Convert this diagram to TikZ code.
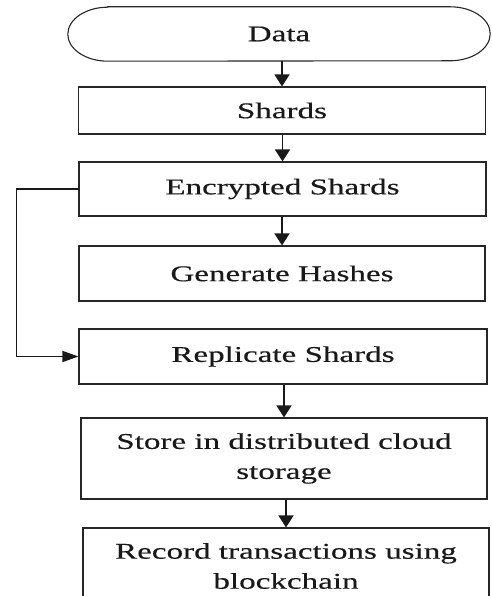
\documentclass[tikz,border=0pt]{standalone}
\usepackage{fontspec}
\setmainfont[FakeStretch=1.47,FakeBold=0.4]{Liberation Serif}
\usetikzlibrary{arrows.meta,calc}
\begin{document}
\begin{tikzpicture}[x=1pt,y=1pt,
  txt/.style={inner sep=0pt, align=center, text=black!90, font=\fontsize{22.5}{30}\selectfont},
  box/.style={txt, draw=black!85, line width=1.1pt, minimum width=407pt},
  down/.style={draw=black!90, line width=1.6pt, -{Triangle[width=15pt,length=12pt]}},
  side/.style={draw=black!90, line width=1.3pt, -{Triangle[width=11pt,length=16pt]}}]
\useasboundingbox (0,0) rectangle (491,596);
\clip (0,0) rectangle (491,596);

% start terminator with stretched round ends
\node[txt, minimum width=422pt, minimum height=54pt] (data) at (279,562) {Data};
\draw[draw=black!85, line width=1.1pt]
  ($(data.north west)+(40,0)$) -- ($(data.north east)+(-40,0)$)
  arc[start angle=90, end angle=-90, x radius=40, y radius=27]
  -- ($(data.south west)+(40,0)$)
  arc[start angle=270, end angle=90, x radius=40, y radius=27] -- cycle;

% process steps
\node[box, minimum height=47pt] (shards) at (282,485.5) {Shards};
\node[box, minimum height=54pt] (enc) at (282.5,407) {Encrypted Shards};
\node[box, minimum width=406pt, minimum height=55pt] (gen) at (282,322.5) {Generate Hashes};
\node[box, minimum width=408pt, minimum height=55pt] (rep) at (283,239.5) {Replicate Shards};
\node[box, minimum width=406pt, minimum height=81pt] (store) at (284,137.5) {Store in distributed cloud\\storage};
\node[box, minimum width=406pt, minimum height=76pt] (rec) at (286,30) {Record transactions using\\blockchain};

% connectors
\draw[down] (data.south -| shards.north) -- (shards.north);
\draw[down] (enc.north |- shards.south) -- (enc.north);
\draw[down] (enc.south -| gen.north) -- (gen.north);
\draw[side] (enc.west) -- ++(-62,0) |- (rep.west);
\draw[down] (rep.south -| store.north) -- (store.north);
\draw[down] (store.south -| rec.north) -- (rec.north);
\end{tikzpicture}
\end{document}
